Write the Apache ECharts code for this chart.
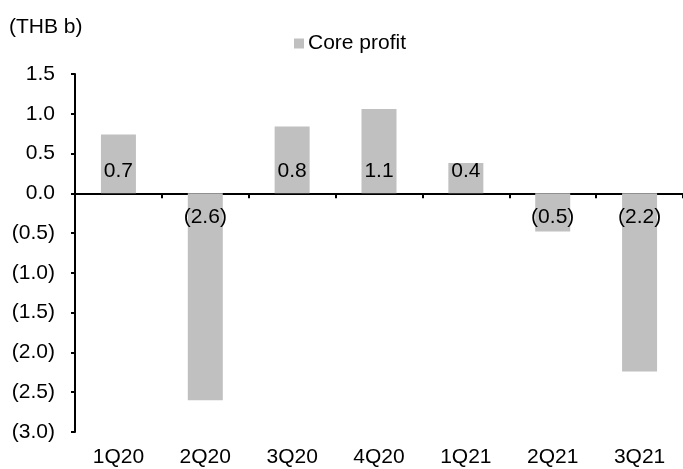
<!DOCTYPE html>
<html>
<head>
<meta charset="utf-8">
<script src="https://cdn.jsdelivr.net/npm/echarts@6/dist/echarts.min.js"></script>
<style>
  html, body { margin: 0; padding: 0; background: #fff; }
  #chart { width: 683px; height: 469px; }
</style>
</head>
<body>
<div id="chart"></div>
<script>
// data
const quarters = ['1Q20', '2Q20', '3Q20', '4Q20', '1Q21', '2Q21', '3Q21'];
const coreProfit = [0.74, -2.6, 0.84, 1.06, 0.38, -0.48, -2.24];
const yTicks = { min: -3.0, max: 1.5, step: 0.5 };

const FONT = '"Liberation Sans", Arial, sans-serif';
const fmt = v => v < 0 ? '(' + Math.abs(v).toFixed(1) + ')' : v.toFixed(1);

const chart = echarts.init(document.getElementById('chart'));

let barData = coreProfit.map(v => {
    return {
        value: v,
        label: {
            position: v >= 0 ? 'insideBottom' : 'insideTop',
            distance: v >= 0 ? 12 : 13
        }
    };
});

let option = {
    animation: false,
    title: {
        text: '(THB b)',
        left: 4,
        top: 12,
        textStyle: { fontFamily: FONT, fontSize: 21, fontWeight: 'normal', color: '#000' }
    },
    legend: {
        left: 289,
        top: 28,
        itemWidth: 10,
        itemHeight: 10,
        itemGap: 10,
        icon: 'rect',
        textStyle: { fontFamily: FONT, fontSize: 21, color: '#000', padding: [0, 0, 0, -1] },
        data: ['Core profit']
    },
    grid: { left: 75, right: 0, top: 74, bottom: 37, containLabel: false },
    xAxis: [
        {
            type: 'category',
            data: quarters,
            position: 'top',
            axisLine: { onZero: true, lineStyle: { color: '#000', width: 2 } },
            axisTick: { show: true, inside: true, length: 5, lineStyle: { color: '#000', width: 2 } },
            axisLabel: { show: false },
            splitLine: { show: false }
        },
        {
            type: 'category',
            data: quarters,
            position: 'bottom',
            axisLine: { show: false, onZero: false },
            axisTick: { show: false },
            axisLabel: { margin: 15, fontFamily: FONT, fontSize: 21, color: '#000' },
            splitLine: { show: false }
        }
    ],
    yAxis: {
        type: 'value',
        min: yTicks.min,
        max: yTicks.max,
        interval: yTicks.step,
        axisLine: { show: true, onZero: false, lineStyle: { color: '#000', width: 2 } },
        axisTick: { show: true, length: 4, lineStyle: { color: '#000', width: 2 } },
        axisLabel: { margin: 20, fontFamily: FONT, fontSize: 21, color: '#000', formatter: fmt },
        splitLine: { show: false }
    },
    series: [
        {
            name: 'Core profit',
            type: 'bar',
            xAxisIndex: 0,
            barWidth: 35,
            itemStyle: { color: '#c0c0c0' },
            label: {
                show: true,
                fontFamily: FONT,
                fontSize: 21,
                color: '#000',
                formatter: p => fmt(p.value)
            },
            data: barData
        }
    ]
};

chart.setOption(option);
</script>
</body>
</html>
